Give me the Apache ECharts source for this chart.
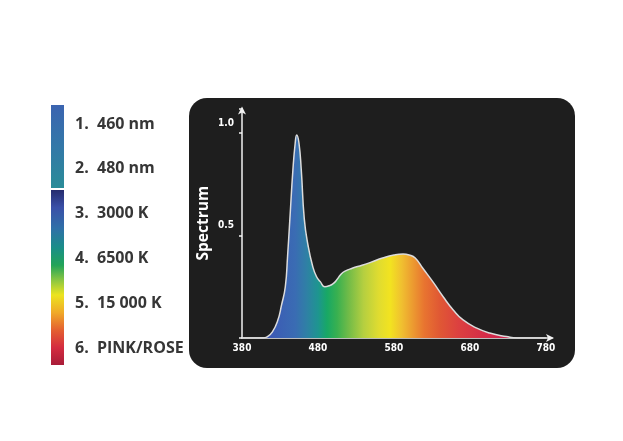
<!DOCTYPE html>
<html>
<head>
<meta charset="utf-8">
<script src="https://cdn.jsdelivr.net/npm/echarts@6/dist/echarts.min.js"></script>
<style>
html,body{margin:0;padding:0;background:#ffffff;}
#c{width:623px;height:441px;}
</style>
</head>
<body>
<div id="c"></div>
<script>
// Wavelength (nm) and relative spectrum values
const wavelengths = [380, 408, 413, 420, 427, 432, 437, 440, 443, 447, 450, 452, 455, 458, 462, 467, 473, 478, 483, 489, 495, 500, 505, 510, 515, 525, 538, 550, 565, 580, 592, 600, 608, 618, 632, 645, 658, 671, 689, 706, 728, 742, 780];
const spectrum    = [0, 0, 0.005, 0.03, 0.085, 0.16, 0.25, 0.40, 0.58, 0.82, 0.95, 0.99, 0.95, 0.82, 0.58, 0.45, 0.35, 0.30, 0.275, 0.25, 0.255, 0.265, 0.285, 0.31, 0.325, 0.34, 0.355, 0.37, 0.39, 0.405, 0.41, 0.405, 0.39, 0.34, 0.27, 0.20, 0.137, 0.088, 0.048, 0.024, 0.007, 0, 0];
const xTickLabels = ['380', '480', '580', '680', '780'];
const yTickLabels = ['0.5', '1.0'];
const legendNumbers = ['1.', '2.', '3.', '4.', '5.', '6.'];
const legendNames = ['460 nm', '480 nm', '3000 K', '6500 K', '15 000 K', 'PINK/ROSE'];
const yAxisTitle = 'Spectrum';

const chart = echarts.init(document.getElementById('c'));

const xMin = 380, xMax = 780;
const specStops = [
  [410, '#3d55b5'], [450, '#3a6cb3'], [465, '#2f80a5'], [480, '#1e9590'],
  [492, '#18a865'], [505, '#38b050'], [520, '#70bb48'], [540, '#b5cf40'],
  [560, '#e0dc30'], [575, '#f2e320'], [590, '#f0c030'], [605, '#ec9a30'],
  [620, '#e87430'], [640, '#e05834'], [665, '#dc4040'], [700, '#d42c48'],
  [740, '#cc2050']
].map(s => ({ offset: (s[0] - xMin) / (xMax - xMin), color: s[1] }));

const data = wavelengths.map((w, i) => [w, spectrum[i]]);

const legendY0 = 124, legendStep = 44.8;
const legendFont = 'bold 16px "Open Sans", sans-serif';
const legendGraphics = [];
legendNumbers.forEach((n, i) => {
  const y = legendY0 + i * legendStep;
  legendGraphics.push({
    type: 'text', left: 75, top: y - 8, z: 10,
    style: { text: n, fill: '#363636', font: legendFont }
  });
  legendGraphics.push({
    type: 'text', left: 97, top: y - 8, z: 10,
    style: { text: legendNames[i], fill: '#363636', font: legendFont }
  });
});

const option = {
  backgroundColor: '#ffffff',
  animation: false,
  grid: { left: 242, right: 71, top: 108.4, bottom: 103, containLabel: false },
  graphic: [
    { type: 'rect', z: -100, shape: { x: 189, y: 98, width: 386, height: 270, r: 18 },
      style: { fill: '#1e1e1e' } },
    { type: 'rect', z: 10, shape: { x: 51, y: 105, width: 13, height: 83 },
      style: { fill: new echarts.graphic.LinearGradient(0, 0, 0, 1, [
        { offset: 0, color: '#3b64b0' }, { offset: 0.5, color: '#3378a8' }, { offset: 1, color: '#2a8c98' }
      ]) } },
    { type: 'rect', z: 10, shape: { x: 51, y: 190, width: 13, height: 175 },
      style: { fill: new echarts.graphic.LinearGradient(0, 0, 0, 1, [
        { offset: 0, color: '#262c6e' }, { offset: 0.1, color: '#3a50a8' },
        { offset: 0.22, color: '#2f70a8' }, { offset: 0.33, color: '#1a8e88' },
        { offset: 0.43, color: '#22a458' }, { offset: 0.52, color: '#90c840' },
        { offset: 0.6, color: '#ece420' }, { offset: 0.7, color: '#f0aa28' },
        { offset: 0.8, color: '#e46030' }, { offset: 0.9, color: '#d42c40' },
        { offset: 1, color: '#a81c38' }
      ]) } }
  ].concat(legendGraphics),
  xAxis: {
    type: 'value', min: 380, max: 788, interval: 100,
    axisLine: { show: true, lineStyle: { color: '#f2f2f2', width: 1.5 }, symbol: ['none', 'arrow'], symbolSize: [6, 8], symbolOffset: [0, 2] },
    axisTick: { show: false },
    splitLine: { show: false },
    axisLabel: {
      color: '#ffffff', fontSize: 10, margin: 5,
      fontFamily: '"Liberation Sans Narrow", "DejaVu Sans Condensed", sans-serif', fontWeight: 'bold',
      formatter: v => { const s = String(Math.round(v)); return xTickLabels.indexOf(s) >= 0 ? s : ''; }
    }
  },
  yAxis: {
    type: 'value', min: 0, max: 1.12, interval: 0.5,
    name: yAxisTitle, nameLocation: 'middle', nameRotate: 90, nameGap: 30,
    nameTextStyle: { color: '#ffffff', fontSize: 15.5, fontWeight: 'bold', fontFamily: '"Open Sans", sans-serif' },
    axisLine: { show: true, lineStyle: { color: '#f2f2f2', width: 1.5 }, symbol: ['none', 'arrow'], symbolSize: [6, 8], symbolOffset: [0, 2] },
    axisTick: { show: true, length: 3, lineStyle: { color: '#f2f2f2', width: 1.5 } },
    splitLine: { show: false },
    axisLabel: {
      color: '#ffffff', fontSize: 10, margin: 8, verticalAlign: 'bottom', padding: [0, 0, 5, 0],
      fontFamily: '"Liberation Sans Narrow", "DejaVu Sans Condensed", sans-serif', fontWeight: 'bold',
      formatter: v => { const s = v.toFixed(1); return yTickLabels.indexOf(s) >= 0 ? s : ''; }
    }
  },
  series: [{
    type: 'line', data: data, smooth: 0.5, showSymbol: false, z: 3,
    lineStyle: { color: '#dcdcdc', width: 1.5 },
    areaStyle: { opacity: 1, color: new echarts.graphic.LinearGradient(0, 0, 1, 0, specStops) }
  }]
};
chart.setOption(option);
</script>
</body>
</html>
